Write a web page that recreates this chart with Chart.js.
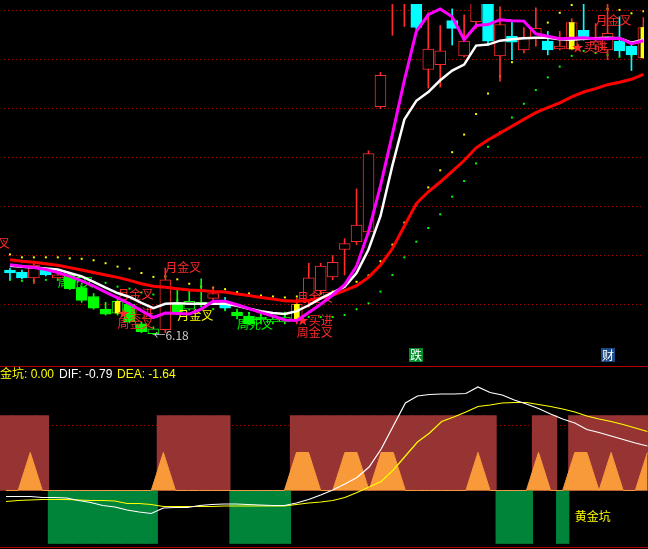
<!DOCTYPE html>
<html>
<head>
<meta charset="utf-8">
<script src="https://cdn.jsdelivr.net/npm/chart.js@4.4.0/dist/chart.umd.min.js"></script>
<style>
  html, body { margin: 0; padding: 0; background: #000; }
  #wrap { position: relative; width: 648px; height: 549px; overflow: hidden; background: #000; }
  #kline { position: absolute; left: 0; top: 0; }
  #macd { position: absolute; left: 0; top: 366px; }
</style>
</head>
<body>
<div id="wrap">
  <canvas id="kline" width="648" height="366"></canvas>
  <canvas id="macd" width="648" height="183"></canvas>
</div>
<script>
// daily bars, price
const openP = [7.50, 7.46, 7.34, 7.50, 7.34, 7.40, 7.14, 6.96, 6.70, 6.62,
  6.80, 6.40, 6.20, 6.28, 6.82, 6.70, 6.84, 6.92, 6.84, 6.64,
  6.56, 6.54, 6.44, 6.44, 6.48, 6.88, 7.08, 7.36, 7.92, 8.08,
  8.28, 10.84, 13.00, 12.98, 13.34, 11.60, 11.70, 12.60, 11.88, 12.58,
  13.14, 11.88, 12.28, 12.00, 12.24, 12.18, 12.02, 12.02, 12.40, 12.10,
  12.00, 12.18, 12.08, 11.84];
const highP = [7.54, 7.50, 7.64, 7.54, 7.44, 7.42, 7.18, 7.02, 6.84, 6.90,
  6.84, 6.44, 6.34, 7.54, 7.10, 7.10, 7.32, 7.14, 6.94, 6.70,
  6.62, 6.64, 6.54, 6.64, 6.92, 7.64, 7.64, 7.80, 8.14, 9.16,
  9.94, 11.54, 13.94, 13.74, 13.54, 12.76, 12.50, 12.84, 12.72, 13.34,
  13.34, 12.88, 12.58, 12.46, 12.86, 12.38, 12.38, 12.64, 13.04, 12.54,
  13.04, 12.68, 12.14, 12.66];
const lowP = [7.32, 7.32, 7.22, 7.38, 7.32, 7.10, 6.84, 6.70, 6.58, 6.58,
  6.42, 6.22, 6.18, 6.22, 6.62, 6.68, 6.78, 6.90, 6.70, 6.50,
  6.38, 6.40, 6.40, 6.40, 6.40, 6.74, 7.02, 7.30, 7.40, 8.02,
  8.22, 10.80, 12.30, 12.48, 12.42, 11.22, 11.24, 12.10, 11.86, 12.44,
  12.10, 11.36, 11.80, 11.94, 12.08, 11.90, 12.00, 12.00, 12.20, 12.00,
  11.80, 11.88, 11.58, 11.82];
const closeP = [7.44, 7.34, 7.60, 7.40, 7.40, 7.12, 6.88, 6.72, 6.60, 6.86,
  6.44, 6.24, 6.30, 7.30, 6.64, 6.86, 6.80, 7.02, 6.72, 6.56,
  6.40, 6.50, 6.50, 6.54, 6.80, 7.34, 7.58, 7.66, 8.04, 8.42,
  9.88, 11.48, 13.74, 13.54, 12.46, 12.02, 11.98, 12.44, 12.18, 13.14,
  12.18, 12.52, 12.16, 12.26, 12.44, 12.00, 12.08, 12.56, 12.22, 12.18,
  12.34, 11.98, 11.90, 12.46];

// moving averages
const maLong = [7.71, 7.68, 7.66, 7.63, 7.60, 7.55, 7.50, 7.45, 7.40, 7.35,
  7.29, 7.22, 7.17, 7.15, 7.12, 7.09, 7.08, 7.06, 7.05, 7.01,
  6.98, 6.94, 6.91, 6.87, 6.86, 6.88, 6.93, 6.99, 7.08, 7.18,
  7.35, 7.60, 7.94, 8.40, 8.86, 9.10, 9.30, 9.52, 9.74, 10.00,
  10.16, 10.30, 10.44, 10.58, 10.72, 10.82, 10.92, 11.04, 11.14, 11.21,
  11.29, 11.34, 11.40, 11.50];
const maMid = [7.59, 7.57, 7.55, 7.53, 7.51, 7.44, 7.37, 7.26, 7.14, 7.03,
  6.95, 6.83, 6.72, 6.81, 6.82, 6.81, 6.81, 6.81, 6.81, 6.77,
  6.71, 6.66, 6.62, 6.60, 6.66, 6.78, 6.92, 7.04, 7.16, 7.44,
  7.92, 8.60, 9.64, 10.58, 10.96, 11.14, 11.38, 11.58, 11.70, 12.09,
  12.11, 12.19, 12.22, 12.24, 12.25, 12.25, 12.22, 12.21, 12.23, 12.24,
  12.25, 12.24, 12.15, 12.21];
const maShort = [7.61, 7.58, 7.55, 7.51, 7.45, 7.37, 7.28, 7.17, 7.05, 6.93,
  6.81, 6.67, 6.53, 6.62, 6.61, 6.60, 6.70, 6.86, 6.86, 6.79,
  6.71, 6.63, 6.56, 6.48, 6.47, 6.63, 6.80, 6.99, 7.20, 7.58,
  8.28, 9.22, 10.28, 11.38, 12.38, 12.72, 12.84, 12.68, 12.21, 12.50,
  12.52, 12.62, 12.60, 12.59, 12.33, 12.28, 12.23, 12.24, 12.25, 12.23,
  12.23, 12.24, 12.13, 12.19];

// dotted tracks
const dotUpper = [7.82, 7.76, 7.76, 7.76, 7.76, 7.74, 7.73, 7.70, 7.64, 7.57,
  7.53, 7.44, 7.36, 7.37, 7.31, 7.22, 7.16, 7.14, 7.11, 7.05,
  7.02, 6.98, 6.96, 6.94, 6.96, 7.00, 7.02, 7.06, 7.09, 7.26,
  7.39, 7.68, 8.02, 8.47, 8.84, 9.19, 9.54, 9.91, 10.27, 10.69,
  11.11, 11.46, 11.75, 12.02, 12.30, 12.56, 12.76, 12.92, null, null,
  12.84, 12.82, 12.75, 12.79];
const dotLower = [7.30, 7.28, 7.28, 7.30, 7.30, 7.26, 7.22, 7.18, 7.24, 7.16,
  7.12, 7.04, 7.00, 6.94, 6.88, 6.82, 6.76, 6.70, 6.68, 6.64,
  6.62, 6.58, 6.54, 6.54, 6.54, 6.54, 6.54, 6.54, 6.58, 6.70,
  6.82, 7.06, 7.40, 7.76, 8.08, 8.36, 8.64, 9.00, 9.32, 9.68,
  10.02, 10.32, 10.62, 10.90, 11.18, 11.44, 11.66, 11.88, 11.98, 11.94,
  11.90, 11.86, 11.88, 11.94];

const weakBars = [5, 6, 7, 8, 9, 10, 11, 12, 14, 15, 16, 19, 20, 21, 22, 23];
const signalBars = [9, 24, 47, 53];
const gridPrices = [6.8, 7.8, 8.8, 9.8, 10.8, 11.8, 12.8];

// lower panel
const trendBlock = [1.5, 1.5, 1.5, 1.5, -1.06, -1.06, -1.06, -1.06, -1.06, -1.06,
  -1.06, -1.06, -1.06, 1.5, 1.5, 1.5, 1.5, 1.5, 1.5, -1.06,
  -1.06, -1.06, -1.06, -1.06, 1.5, 1.5, 1.5, 1.5, 1.5, 1.5,
  1.5, 1.5, 1.5, 1.5, 1.5, 1.5, 1.5, 1.5, 1.5, 1.5,
  1.5, -1.06, -1.06, -1.06, 1.5, 1.5, -1.06, 1.5, 1.5, 1.5,
  1.5, 1.5, 1.5, 1.5];
const pulse = [0, 0, 0.76, 0, 0, 0, 0, 0, 0, 0,
  0, 0, 0, 0.76, 0, 0, 0, 0, 0, 0,
  0, 0, 0, 0, 0.76, 0.76, 0, 0, 0.76, 0.76,
  0, 0.76, 0.76, 0, 0, 0, 0, 0, 0, 0.76,
  0, 0, 0, 0, 0.76, 0, 0, 0.76, 0.76, 0,
  0.76, 0, 0, 0.76];
const dif = [-0.12, -0.12, -0.12, -0.14, -0.14, -0.15, -0.20, -0.24, -0.30, -0.33,
  -0.39, -0.43, -0.46, -0.35, -0.34, -0.34, -0.30, -0.28, -0.27, -0.27,
  -0.28, -0.29, -0.30, -0.30, -0.25, -0.18, -0.09, 0.01, 0.13, 0.26,
  0.47, 0.83, 1.29, 1.75, 1.89, 1.92, 1.93, 1.93, 1.94, 2.07,
  1.96, 1.91, 1.81, 1.73, 1.64, 1.53, 1.43, 1.35, 1.22, 1.16,
  1.09, 1.02, 0.95, 0.89];
const dea = [-0.22, -0.20, -0.19, -0.18, -0.18, -0.18, -0.19, -0.20, -0.20, -0.21,
  -0.26, -0.26, -0.28, -0.32, -0.32, -0.32, -0.32, -0.32, -0.31, -0.31,
  -0.31, -0.31, -0.31, -0.31, -0.28, -0.25, -0.23, -0.20, -0.14, -0.04,
  0.07, 0.18, 0.41, 0.69, 0.97, 1.15, 1.38, 1.47, 1.57, 1.68,
  1.71, 1.75, 1.76, 1.76, 1.72, 1.68, 1.63, 1.57, 1.49, 1.43,
  1.38, 1.32, 1.25, 1.18];
const lowerGrid = [1.3];

const RED = '#ff2a2a';
const CJK = '12px "Noto Sans CJK SC", sans-serif';

// text marks: bar index, price, text
const marks = [
  { i: -3, p: 8.04, text: '月金叉', color: RED },
  { i: 4, p: 7.24, text: '周死叉', color: '#00ff00', under: true },
  { i: 9, p: 7.00, text: '月金叉', color: RED },
  { i: 9, p: 6.62, text: '★买进', color: RED },
  { i: 9, p: 6.40, text: '周金叉', color: RED },
  { i: 12, p: 6.16, text: '←6.18', color: '#c8c8c8' },
  { i: 13, p: 7.56, text: '月金叉', color: RED },
  { i: 14, p: 6.58, text: '月金叉', color: '#ffff00' },
  { i: 19, p: 6.38, text: '周死叉', color: '#00ff00' },
  { i: 24, p: 6.94, text: '月金叉', color: RED },
  { i: 24, p: 6.48, text: '★买进', color: RED },
  { i: 24, p: 6.22, text: '周金叉', color: RED },
  { i: 47, p: 12.06, text: '★买进', color: RED },
  { i: 49, p: 12.60, text: '月金叉', color: RED },
];
const tags = [
  { i: 34, text: '跌', bg: '#008c28' },
  { i: 50, text: '财', bg: '#1c4a88' },
];

const idx = openP.map((_, i) => i);
const pts = arr => arr.map((v, i) => ({ x: i, y: v }));
const weak = new Set(weakBars);
const candleColor = idx.map(i => weak.has(i) ? '#00ff00' : (closeP[i] >= openP[i] ? RED : '#00ffff'));
const bodyFill = idx.map(i => closeP[i] >= openP[i] ? '#000000' : candleColor[i]);

function drawMarks(chart, under) {
  const { ctx } = chart;
  const xs = chart.scales.x, ys = chart.scales.y;
  ctx.save();
  ctx.font = CJK;
  ctx.textAlign = 'left';
  ctx.textBaseline = 'middle';
  marks.filter(m => !!m.under === under).forEach(m => {
    ctx.fillStyle = m.color;
    ctx.fillText(m.text, xs.getPixelForValue(m.i), ys.getPixelForValue(m.p));
  });
  ctx.restore();
}

const markPlugin = {
  id: 'markPlugin',
  beforeDatasetsDraw(chart) { drawMarks(chart, true); },
  afterDatasetDraw(chart, args) {
    if (args.index === 4) drawMarks(chart, false);
  },
  afterDraw(chart) {
    const { ctx, chartArea } = chart;
    const xs = chart.scales.x;
    ctx.save();
    ctx.font = CJK;
    ctx.textAlign = 'center';
    ctx.textBaseline = 'middle';
    tags.forEach(t => {
      const x = Math.round(xs.getPixelForValue(t.i));
      ctx.fillStyle = t.bg;
      ctx.fillRect(x - 7, chartArea.bottom - 14, 14, 14);
      ctx.fillStyle = '#ffffff';
      ctx.fillText(t.text, x, chartArea.bottom - 7);
    });
    ctx.restore();
  }
};

const xAxis = { type: 'linear', min: -0.5, max: 53.05, display: false, offset: false };

new Chart(document.getElementById('kline'), {
  type: 'bar',
  data: {
    datasets: [
      { type: 'line', label: 'upper dots', data: pts(dotUpper), showLine: false, pointStyle: 'rect',
        pointRadius: 1.4, pointBorderWidth: 0, pointBackgroundColor: '#ffff00', order: 10 },
      { type: 'line', label: 'lower dots', data: pts(dotLower), showLine: false, pointStyle: 'rect',
        pointRadius: 1.4, pointBorderWidth: 0, pointBackgroundColor: '#00ff00', order: 10 },
      { label: 'wicks', data: idx.map(i => ({ x: i, y: [lowP[i], highP[i]] })),
        backgroundColor: candleColor, barThickness: 1, grouped: false, order: 9 },
      { label: 'bodies', data: idx.map(i => ({ x: i, y: [openP[i], closeP[i]] })),
        backgroundColor: bodyFill, borderColor: candleColor, borderWidth: 1, borderSkipped: false,
        barThickness: 11, grouped: false, order: 8 },
      { label: 'signal', data: signalBars.map(i => ({ x: i, y: [openP[i], closeP[i]] })),
        backgroundColor: '#ffff00', barThickness: 5, grouped: false, order: 7 },
      { type: 'line', label: 'MA long', data: pts(maLong), borderColor: '#ff0000', borderWidth: 3,
        pointRadius: 0, order: 6 },
      { type: 'line', label: 'MA mid', data: pts(maMid), borderColor: '#ffffff', borderWidth: 2.5,
        pointRadius: 0, order: 5 },
      { type: 'line', label: 'MA short', data: pts(maShort), borderColor: '#ff00ff', borderWidth: 3,
        pointRadius: 0, order: 4 },
    ]
  },
  options: {
    responsive: false,
    animation: false,
    events: [],
    layout: { padding: 0 },
    plugins: { legend: { display: false }, tooltip: { enabled: false } },
    scales: {
      x: xAxis,
      y: {
        min: 5.62, max: 12.94,
        afterBuildTicks: axis => { axis.ticks = gridPrices.map(v => ({ value: v })); },
        ticks: { display: false },
        grid: { color: '#b00000', lineWidth: 1, drawTicks: false },
        border: { display: false, dash: [1, 3] }
      }
    }
  },
  plugins: [markPlugin]
});

const lowerPlugin = {
  id: 'lowerPlugin',
  afterDraw(chart) {
    const { ctx, chartArea } = chart;
    ctx.save();
    ctx.fillStyle = '#b40000';
    ctx.fillRect(0, chartArea.top, 648, 1);
    ctx.fillRect(0, chartArea.bottom - 2, 648, 1);
    ctx.font = '12px "Liberation Sans", "Noto Sans CJK SC", sans-serif';
    ctx.textBaseline = 'middle';
    ctx.textAlign = 'left';
    ctx.fillStyle = '#ffff00';
    ctx.fillText('黄金坑: 0.00', -12, 9);
    ctx.fillStyle = '#ffffff';
    ctx.fillText('DIF: -0.79', 59, 9);
    ctx.fillStyle = '#ffff00';
    ctx.fillText('DEA: -1.64', 117, 9);
    ctx.font = CJK;
    const xs = chart.scales.x, ys = chart.scales.y;
    ctx.fillText('黄金坑', xs.getPixelForValue(47), ys.getPixelForValue(-0.51));
    ctx.restore();
  }
};

new Chart(document.getElementById('macd'), {
  type: 'bar',
  data: {
    datasets: [
      { type: 'line', label: 'DIF', data: pts(dif), borderColor: '#ffffff', borderWidth: 1.2,
        pointRadius: 0, order: 1 },
      { type: 'line', label: 'DEA', data: pts(dea), borderColor: '#ffff00', borderWidth: 1.2,
        pointRadius: 0, order: 2 },
      { type: 'line', label: 'pulse', data: pts(pulse), borderColor: '#f99a3a', backgroundColor: '#f99a3a',
        borderWidth: 1, fill: 'origin', pointRadius: 0, order: 3 },
      { label: 'hold', data: idx.map(i => ({ x: i, y: trendBlock[i] > 0 ? trendBlock[i] : null })),
        backgroundColor: '#963434', barThickness: 12.6, grouped: false, order: 4 },
      { label: 'pit', data: idx.map(i => ({ x: i, y: trendBlock[i] < 0 ? trendBlock[i] : null })),
        backgroundColor: '#00843a', barThickness: 12.6, grouped: false, order: 4 },
    ]
  },
  options: {
    responsive: false,
    animation: false,
    events: [],
    layout: { padding: 0 },
    plugins: { legend: { display: false }, tooltip: { enabled: false } },
    scales: {
      x: xAxis,
      y: {
        min: -1.17, max: 2.49,
        afterBuildTicks: axis => { axis.ticks = lowerGrid.map(v => ({ value: v })); },
        ticks: { display: false },
        grid: { color: '#b00000', lineWidth: 1, drawTicks: false },
        border: { display: false, dash: [1, 3] }
      }
    }
  },
  plugins: [lowerPlugin]
});
</script>
</body>
</html>
